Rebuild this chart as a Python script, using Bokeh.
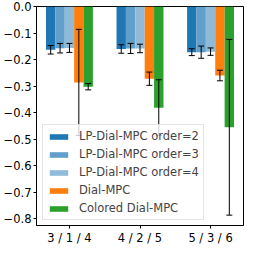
from bokeh.plotting import figure
from bokeh.models import Range1d, FixedTicker, Legend, LegendItem, Whisker, TeeHead, ColumnDataSource
from bokeh.embed import file_html
from bokeh.resources import INLINE

groups = ["3 / 1 / 4", "4 / 2 / 5", "5 / 3 / 6"]
series = ["LP-Dial-MPC order=2", "LP-Dial-MPC order=3", "LP-Dial-MPC order=4", "Dial-MPC", "Colored Dial-MPC"]
means = [
    [-0.163, -0.160, -0.172],
    [-0.157, -0.158, -0.172],
    [-0.156, -0.158, -0.170],
    [-0.286, -0.272, -0.260],
    [-0.302, -0.381, -0.455],
]
errs = [
    [0.016, 0.016, 0.013],
    [0.018, 0.019, 0.023],
    [0.017, 0.016, 0.014],
    [0.200, 0.025, 0.020],
    [0.012, 0.105, 0.331],
]
colors = ["#1f77b4", "#629fca", "#8fbbd9", "#ff7f0e", "#2ca02c"]
yticks = [0.0, -0.1, -0.2, -0.3, -0.4, -0.5, -0.6, -0.7, -0.8]

width = 0.133
p = figure(width=245, height=247, output_backend="svg", toolbar_location=None,
           x_range=Range1d(-0.467, 2.467), y_range=Range1d(-0.825, 0.0),
           min_border_top=6, min_border_right=2, min_border_left=0, min_border_bottom=0)
p.xgrid.visible = False
p.ygrid.visible = False
p.outline_line_color = "black"
p.outline_line_alpha = 1

items = []
for i, name in enumerate(series):
    xs = [g + (i - 2) * width for g in range(len(groups))]
    src = ColumnDataSource(dict(x=xs, top=means[i],
                                lo=[m - e for m, e in zip(means[i], errs[i])],
                                hi=[m + e for m, e in zip(means[i], errs[i])]))
    r = p.vbar(x="x", top="top", bottom=0, width=width, source=src,
               fill_color=colors[i], line_color=None)
    items.append(LegendItem(label=name, renderers=[r]))
    w = Whisker(base="x", lower="lo", upper="hi", source=src, level="overlay",
                line_color="black", line_width=1,
                upper_head=TeeHead(size=6, line_color="black", line_width=1),
                lower_head=TeeHead(size=6, line_color="black", line_width=1))
    p.add_layout(w)

p.xaxis.ticker = FixedTicker(ticks=[0, 1, 2])
p.xaxis.major_label_overrides = {i: g for i, g in enumerate(groups)}
p.yaxis.ticker = FixedTicker(ticks=yticks)
p.yaxis.major_label_overrides = {t: ("%.1f" % t).replace("-", "\u2212") if t != 0 else "0.0" for t in yticks}
for ax in (p.xaxis[0], p.yaxis[0]):
    ax.major_label_text_font = "DejaVu Sans"
    ax.major_label_text_font_size = "11.5px"
    ax.major_label_text_color = "black"
    ax.axis_line_color = "black"
    ax.major_tick_line_color = "black"
    ax.major_tick_out = 3
    ax.major_tick_in = 0
    ax.minor_tick_line_color = None
    ax.major_label_standoff = 2

legend = Legend(items=items, location=(6, 5), label_text_font="DejaVu Sans",
                label_text_font_size="11.5px", glyph_width=23, glyph_height=7,
                label_height=13, spacing=4, padding=4, margin=0,
                border_line_color="#cccccc", background_fill_alpha=0.8,
                label_standoff=9)
p.add_layout(legend)

open("out.html", "w").write(file_html(p, INLINE))
